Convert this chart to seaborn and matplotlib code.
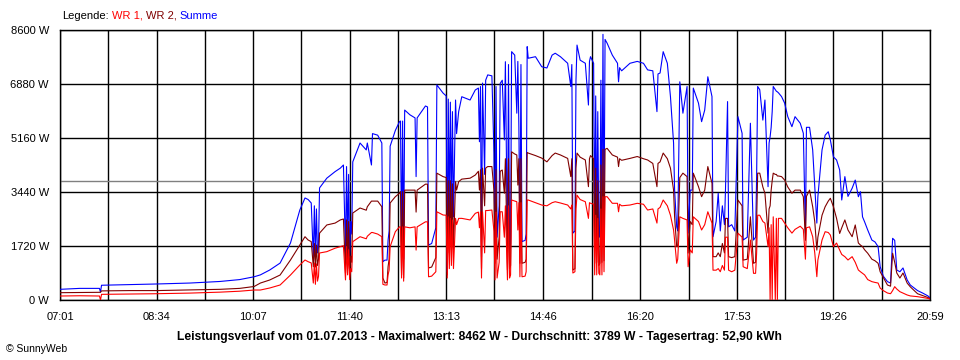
import matplotlib
matplotlib.use("Agg")
import matplotlib.pyplot as plt
import seaborn as sns
import pandas as pd

# Messzeitpunkte (HH:MM)
zeit = [
    "07:01", "07:20", "07:39", "07:40", "07:41", "08:08", "08:34", "09:06", "09:35", "09:54",
    "10:08", "10:14", "10:23", "10:33", "10:43", "10:52", "10:57", "11:00", "11:03", "11:05",
    "11:06", "11:07", "11:08", "11:09", "11:10", "11:11", "11:18", "11:26", "11:31", "11:34",
    "11:36", "11:37", "11:38", "11:39", "11:40", "11:41", "11:42", "11:43", "11:50", "11:56",
    "11:57", "12:01", "12:02", "12:07", "12:11", "12:12", "12:14", "12:16", "12:17", "12:18",
    "12:19", "12:24", "12:28", "12:29", "12:30", "12:31", "12:32", "12:33", "12:38", "12:43",
    "12:44", "12:45", "12:53", "12:55", "12:56", "12:59", "13:03", "13:04", "13:10", "13:13",
    "13:14", "13:15", "13:16", "13:17", "13:18", "13:19", "13:20", "13:22", "13:23", "13:25",
    "13:28", "13:36", "13:41", "13:44", "13:45", "13:46", "13:47", "13:48", "13:50", "13:51",
    "13:53", "13:57", "13:59", "14:00", "14:01", "14:02", "14:04", "14:05", "14:07", "14:09",
    "14:10", "14:12", "14:13", "14:14", "14:15", "14:16", "14:19", "14:21", "14:22", "14:23",
    "14:24", "14:25", "14:26", "14:29", "14:30", "14:31", "14:32", "14:39", "14:45", "14:50",
    "14:55", "14:58", "15:03", "15:10", "15:13", "15:14", "15:15", "15:17", "15:18", "15:19",
    "15:22", "15:27", "15:30", "15:31", "15:32", "15:35", "15:36", "15:37", "15:38", "15:39",
    "15:40", "15:41", "15:42", "15:43", "15:44", "15:45", "15:46", "15:48", "15:53", "15:58",
    "15:59", "16:00", "16:02", "16:10", "16:17", "16:23", "16:27", "16:32", "16:36", "16:37",
    "16:39", "16:42", "16:46", "16:49", "16:52", "16:53", "16:55", "16:56", "16:58", "17:01",
    "17:05", "17:06", "17:08", "17:10", "17:11", "17:16", "17:19", "17:22", "17:25", "17:29",
    "17:30", "17:33", "17:35", "17:37", "17:39", "17:41", "17:42", "17:44", "17:45", "17:48",
    "17:51", "17:54", "17:58", "17:59", "18:03", "18:06", "18:09", "18:11", "18:12", "18:13",
    "18:15", "18:18", "18:20", "18:23", "18:24", "18:25", "18:26", "18:27", "18:28", "18:30",
    "18:31", "18:32", "18:33", "18:36", "18:39", "18:42", "18:46", "18:49", "18:54", "18:57",
    "18:59", "19:00", "19:03", "19:06", "19:08", "19:10", "19:11", "19:15", "19:18", "19:21",
    "19:23", "19:26", "19:29", "19:32", "19:34", "19:37", "19:40", "19:44", "19:47", "19:50",
    "19:52", "19:54", "19:56", "19:59", "20:03", "20:06", "20:09", "20:11", "20:14", "20:18",
    "20:21", "20:23", "20:25", "20:27", "20:30", "20:33", "20:37", "20:40", "20:47", "20:52",
    "20:57", "20:59",
]

# Leistung Wechselrichter 1 (W)
wr1 = [
    127, 135, 127, 0, 180, 190, 200, 220, 250, 280,
    318, 318, 382, 478, 796, 1115, 1274, 1220, 1180, 540,
    1180, 500, 1150, 600, 750, 1497, 1540, 1650, 1700, 1730,
    640, 1700, 800, 1600, 650, 1000, 900, 1858, 2016, 1950,
    2030, 2150, 2150, 2100, 2016, 500, 478, 478, 800, 950,
    1700, 2175, 2330, 2330, 700, 2330, 600, 2330, 2300, 2330,
    1590, 2330, 2490, 2490, 740, 760, 900, 2810, 2707, 2700,
    700, 2650, 1000, 2600, 1100, 2550, 1000, 2600, 2400, 2600,
    2600, 2550, 2760, 2800, 2300, 2810, 700, 2810, 1500, 2850,
    2850, 2866, 2200, 640, 2800, 700, 1200, 2810, 2810, 2000,
    3000, 640, 3000, 700, 800, 3185, 3150, 3130, 2230, 3100,
    740, 3100, 740, 760, 900, 3185, 3185, 3100, 3025, 3000,
    3100, 3130, 3090, 3025, 2900, 3025, 860, 900, 2900, 3340,
    3200, 3130, 2600, 3100, 3080, 3050, 800, 2700, 800, 2600,
    850, 800, 2900, 800, 3290, 900, 3290, 3290, 3080, 3080,
    2810, 3050, 3000, 3025, 3080, 3050, 2866, 2900, 2450, 2900,
    2950, 3185, 3000, 2700, 2230, 1900, 1170, 1300, 2650, 2600,
    2550, 1060, 1600, 1500, 2650, 2500, 2230, 2400, 2810, 2450,
    950, 950, 1000, 900, 1100, 950, 2000, 2000, 950, 900,
    950, 2130, 2000, 1060, 1000, 1910, 850, 850, 1500, 2700,
    2700, 2500, 2450, 1700, 2300, 0, 2400, 0, 2650, 0,
    2600, 0, 2600, 2600, 2450, 2300, 2130, 2250, 2350, 2250,
    1300, 2300, 2330, 2016, 1500, 743, 1274, 1910, 2175, 2150,
    2070, 1700, 1815, 1590, 1450, 1380, 1274, 1380, 1200, 955,
    900, 850, 800, 650, 585, 560, 540, 380, 300, 223,
    200, 300, 425, 350, 265, 220, 160, 130, 106, 80,
    50, 30,
]

# Leistung Wechselrichter 2 (W)
wr2 = [
    233, 240, 245, 245, 290, 300, 300, 320, 340, 370,
    430, 540, 637, 796, 1274, 1750, 2016, 1911, 1860, 1060,
    1800, 1050, 1750, 1100, 1300, 2130, 2390, 2450, 2550, 2580,
    860, 2550, 1000, 2500, 900, 1400, 1200, 2770, 2930, 2860,
    2970, 3150, 3150, 3150, 2970, 700, 540, 560, 1060, 1300,
    3090, 3290, 3400, 3450, 800, 3450, 700, 3500, 3500, 3500,
    2800, 3500, 3690, 3690, 1020, 1050, 1350, 4040, 3930, 3900,
    800, 3800, 1500, 3800, 1600, 3700, 1600, 3770, 3500, 3770,
    3850, 3880, 3980, 4100, 3500, 4150, 1000, 4200, 3000, 4200,
    4250, 4250, 3500, 1170, 4150, 1300, 2000, 4100, 4140, 3400,
    4500, 955, 4500, 1000, 1100, 4720, 4650, 4620, 3660, 4500,
    1170, 4500, 1170, 1200, 1300, 4700, 4680, 4600, 4520, 4400,
    4600, 4680, 4620, 4510, 3930, 4500, 955, 1000, 4200, 4680,
    4550, 4460, 3610, 4500, 4600, 4500, 1170, 4200, 1200, 3800,
    1100, 1170, 4300, 1200, 4800, 1250, 4800, 4830, 4620, 4550,
    4250, 4500, 4450, 4510, 4570, 4500, 4460, 4350, 3610, 4350,
    4400, 4680, 4500, 4200, 3500, 2650, 1700, 1700, 3900, 4040,
    3930, 1497, 2500, 2400, 4040, 3610, 3290, 3500, 4250, 3720,
    1380, 1380, 1500, 1380, 1800, 1500, 2600, 2600, 1380, 1350,
    1380, 3185, 3000, 1270, 1300, 2650, 1170, 1200, 2500, 4040,
    4040, 3600, 3400, 2130, 2900, 3000, 3500, 3800, 4040, 4000,
    4000, 3950, 3950, 3930, 3820, 3600, 3400, 3500, 3500, 3290,
    1900, 3300, 3500, 2970, 2500, 1590, 2000, 2700, 2970, 3150,
    3240, 2970, 2600, 2120, 2300, 2550, 2230, 2016, 2390, 1815,
    1750, 1700, 1600, 1490, 1300, 1250, 1170, 900, 720, 478,
    440, 1490, 1200, 860, 700, 860, 540, 420, 200, 140,
    80, 40,
]

# Summe beider Wechselrichter (W)
summe = [
    340, 370, 370, 250, 470, 490, 510, 540, 590, 650,
    740, 800, 955, 1176, 1815, 2866, 3250, 3200, 3090, 1340,
    3000, 1400, 2900, 1500, 1700, 3570, 3880, 4090, 4200, 4300,
    1500, 4250, 1800, 4000, 1400, 2500, 2100, 4400, 5000, 4780,
    5000, 4300, 5300, 5250, 5000, 1220, 1270, 1270, 1900, 2200,
    4900, 5400, 5680, 5700, 1500, 5700, 1300, 6050, 5900, 5800,
    3930, 5800, 6180, 6150, 1750, 1800, 2300, 6850, 6590, 6500,
    900, 6400, 2600, 6300, 2700, 6000, 2650, 6370, 5300, 6000,
    6475, 6370, 6690, 6750, 5040, 6800, 1380, 6910, 4000, 7000,
    7170, 7140, 4680, 1700, 6800, 2000, 3000, 6900, 7000, 5100,
    7590, 1540, 7500, 1600, 1800, 7910, 7800, 5950, 7600, 5500,
    1815, 7500, 1860, 1900, 2100, 8070, 7700, 7750, 7430, 7390,
    7800, 7860, 7750, 7540, 6800, 7500, 2130, 2200, 7000, 8120,
    7640, 7540, 6210, 7600, 7750, 7540, 2130, 6500, 2100, 6000,
    2200, 2000, 7000, 2100, 8462, 2200, 8300, 8180, 7800, 7540,
    6950, 7400, 7300, 7540, 7600, 7540, 7330, 7300, 6000, 7200,
    7230, 7910, 7540, 6480, 5000, 3500, 2330, 2200, 6950, 5950,
    6800, 2130, 3500, 3500, 6750, 6270, 5680, 6050, 7110, 6480,
    2016, 2500, 3400, 2200, 3000, 2400, 3500, 6320, 2330, 2400,
    2200, 5840, 5310, 1910, 2000, 5630, 1910, 2000, 3930, 6800,
    6700, 5730, 6370, 3610, 5000, 5200, 5500, 6000, 6800, 6700,
    6650, 6630, 6600, 6480, 6270, 5840, 5520, 5840, 5630, 5310,
    2130, 5500, 5500, 4780, 3610, 2450, 3290, 4780, 5250, 5360,
    5100, 4560, 4460, 4140, 3185, 3930, 3300, 3560, 3820, 3290,
    3450, 2650, 2490, 2230, 1910, 1850, 1700, 1060, 760, 585,
    540, 1965, 1900, 955, 900, 1020, 640, 478, 300, 220,
    130, 70,
]

y_ticks = [0, 1720, 3440, 5160, 6880, 8600]
x_labels = ["07:01", "08:34", "10:07", "11:40", "13:13", "14:46", "16:20", "17:53", "19:26", "20:59"]
durchschnitt = 3789
titel = ("Leistungsverlauf vom 01.07.2013 - Maximalwert: 8462 W - "
         "Durchschnitt: 3789 W - Tagesertrag: 52,90 kWh")

farben = {"WR 1": "#ff0000", "WR 2": "#800000", "Summe": "#0000ff"}


def to_min(s):
    h, m = s.split(":")
    return int(h) * 60 + int(m)


df = pd.DataFrame({"zeit": zeit, "WR 1": wr1, "WR 2": wr2, "Summe": summe})
df["minute"] = df["zeit"].map(to_min)
lang = df.melt(id_vars=["zeit", "minute"], value_vars=["Summe", "WR 2", "WR 1"],
               var_name="serie", value_name="leistung")

sns.set_style("white")
plt.rcParams["font.family"] = ["Liberation Sans", "DejaVu Sans"]

fig = plt.figure(figsize=(9.6, 3.6), dpi=100)
ax = fig.add_axes([60 / 960, 60 / 360, 870 / 960, 270 / 360])

# Gitter: Haupt- und Zwischenlinien
major = [to_min(s) for s in x_labels]
minor = [(a + b) / 2 for a, b in zip(major[:-1], major[1:])]
for xv in major + minor:
    ax.axvline(xv, color="black", lw=1, zorder=1)
for yv in y_ticks:
    ax.axhline(yv, color="black", lw=1, zorder=1)
ax.axhline(durchschnitt, color="#808080", lw=1, zorder=1)

sns.lineplot(data=lang, x="minute", y="leistung", hue="serie",
             hue_order=["Summe", "WR 2", "WR 1"], palette=farben,
             estimator=None, sort=False, linewidth=0.8, legend=False, ax=ax, zorder=3)

ax.set_xlim(major[0], major[-1])
ax.set_ylim(0, 8600)
ax.set_xticks(major)
ax.set_xticklabels(x_labels)
ax.set_xticks(minor, minor=True)
ax.set_yticks(y_ticks)
ax.set_yticklabels([f"{v} W" for v in y_ticks])
ax.set_xlabel("")
ax.set_ylabel("")
ax.tick_params(axis="both", which="both", direction="out", length=5, width=1,
               color="black", labelsize=8, labelcolor="black")
ax.tick_params(axis="x", pad=4)
ax.tick_params(axis="y", pad=3)
for sp in ax.spines.values():
    sp.set_color("black")
    sp.set_linewidth(1)

# Legende als farbiger Text
renderer = fig.canvas.get_renderer()
x_pos = 62
for teil, farbe in [("Legende:", "black"), ("WR 1,", farben["WR 1"]),
                    ("WR 2,", farben["WR 2"]), ("Summe", farben["Summe"])]:
    t = fig.text(x_pos / 960, 1 - 16 / 360, teil, color=farbe, fontsize=8,
                 ha="left", va="center")
    bb = t.get_window_extent(renderer)
    x_pos = bb.x1 + 3

fig.text(479 / 960, 1 - 337 / 360, titel, fontsize=8.7, fontweight="bold",
         ha="center", va="center", color="black")
fig.text(6 / 960, 1 - 349 / 360, "\u00a9 SunnyWeb", fontsize=7.5,
         ha="left", va="center", color="black")

fig.savefig("out.png", dpi=100, facecolor="white")
plt.close(fig)
